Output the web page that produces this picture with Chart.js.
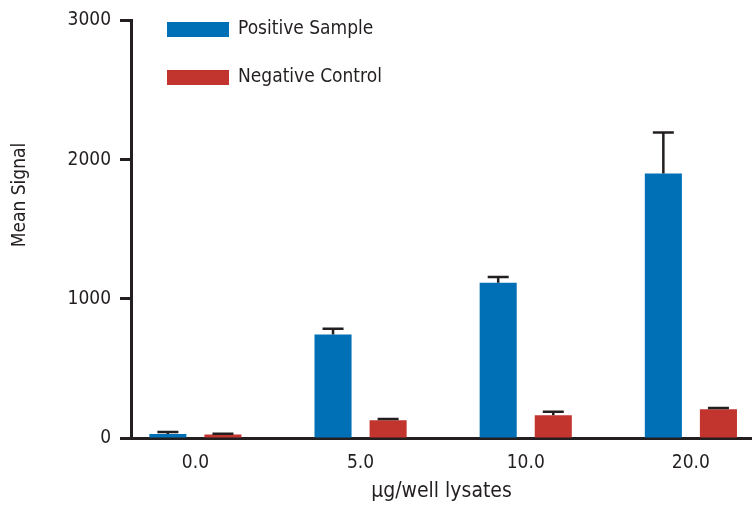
<!DOCTYPE html>
<html>
<head>
<meta charset="utf-8">
<script src="https://cdn.jsdelivr.net/npm/chart.js@4.4.1/dist/chart.umd.min.js"></script>
<style>
  html, body { margin: 0; padding: 0; background: #fff; }
  #wrap { width: 752px; height: 510px; }
</style>
</head>
<body>
<div id="wrap"><canvas id="chart"></canvas></div>
<script>
// ── Data ────────────────────────────────────────────────────────────────
const categories = ['0.0', '5.0', '10.0', '20.0'];
const positiveMean = [28, 743, 1116, 1900];
const positiveErr = [16, 41, 41, 295];
const negativeMean = [25, 128, 164, 207];
const negativeErr = [6, 8, 24, 9];
const yTickValues = [0, 1000, 2000, 3000];

const INK = '#231f20';
const BLUE = '#0070b6';
const RED = '#c1352e';
const FONT = "'Liberation Sans Narrow', 'DejaVu Sans Condensed', sans-serif";

const toPoints = vals => vals.map((v, i) => ({ x: i, y: v }));

// ── Error bars (upper only) ─────────────────────────────────────────────
const errorBars = {
  id: 'errorBars',
  afterDatasetsDraw(chart) {
    const { ctx } = chart;
    const yScale = chart.scales.y;
    chart.data.datasets.forEach((ds, di) => {
      const meta = chart.getDatasetMeta(di);
      meta.data.forEach((bar, i) => {
        const top = yScale.getPixelForValue(ds.data[i].y + ds.errors[i]);
        ctx.save();
        ctx.strokeStyle = INK;
        ctx.lineWidth = 2.5;
        ctx.beginPath();
        ctx.moveTo(bar.x, bar.y);
        ctx.lineTo(bar.x, top);
        ctx.moveTo(bar.x - 10.5, top);
        ctx.lineTo(bar.x + 10.5, top);
        ctx.stroke();
        ctx.restore();
      });
    });
  },
};

// ── Legend + rotated y title ────────────────────────────────────────────
const decorations = {
  id: 'decorations',
  afterDraw(chart) {
    const { ctx } = chart;
    ctx.save();
    chart.data.datasets.forEach((ds, i) => {
      const y = 22 + i * 48;
      ctx.fillStyle = ds.backgroundColor;
      ctx.fillRect(167, y, 62, 15);
      ctx.fillStyle = INK;
      ctx.font = `19px ${FONT}`;
      ctx.textBaseline = 'middle';
      ctx.textAlign = 'left';
      ctx.fillText(ds.label, 238, y + 7.5);
    });
    ctx.translate(20, 195);
    ctx.rotate(-Math.PI / 2);
    ctx.font = `19px ${FONT}`;
    ctx.textAlign = 'center';
    ctx.textBaseline = 'middle';
    ctx.fillText('Mean Signal', 0, 0);
    ctx.restore();
  },
};

new Chart(document.getElementById('chart'), {
  type: 'bar',
  data: {
    datasets: [
      {
        label: 'Positive Sample',
        data: toPoints(positiveMean),
        errors: positiveErr,
        backgroundColor: BLUE,
        categoryPercentage: 0.667,
        barPercentage: 0.673,
      },
      {
        label: 'Negative Control',
        data: toPoints(negativeMean),
        errors: negativeErr,
        backgroundColor: RED,
        categoryPercentage: 0.667,
        barPercentage: 0.673,
      },
    ],
  },
  options: {
    responsive: true,
    maintainAspectRatio: false,
    animation: false,
    layout: { padding: { top: 18, right: 0, left: 0, bottom: 0 } },
    plugins: { legend: { display: false }, tooltip: { enabled: false } },
    scales: {
      x: {
        type: 'linear',
        bounds: 'data',
        offset: false,
        min: -0.39,
        max: 3.37,
        afterBuildTicks: s => { s.ticks = categories.map((_, i) => ({ value: i })); },
        afterFit: s => { s.height = 72; },
        grid: { offset: false, drawOnChartArea: false, drawTicks: false },
        border: { display: true, color: INK, width: 3 },
        ticks: {
          color: INK,
          font: { family: FONT, size: 19 },
          padding: 14,
          callback: v => categories[v],
        },
        title: {
          display: true,
          text: 'μg/well lysates',
          color: INK,
          font: { family: FONT, size: 21 },
          padding: { top: 0, bottom: 6 },
        },
      },
      y: {
        min: 0,
        max: 3000,
        afterBuildTicks: s => { s.ticks = yTickValues.map(v => ({ value: v })); },
        afterFit: s => { s.width = 131; },
        grid: { drawOnChartArea: false, drawTicks: true, tickLength: 11, tickWidth: 3, tickColor: INK },
        border: { display: true, color: INK, width: 3 },
        ticks: {
          color: INK,
          font: { family: FONT, size: 19 },
          padding: 9,
          callback: v => String(v),
        },
      },
    },
  },
  plugins: [errorBars, decorations],
});
</script>
</body>
</html>
